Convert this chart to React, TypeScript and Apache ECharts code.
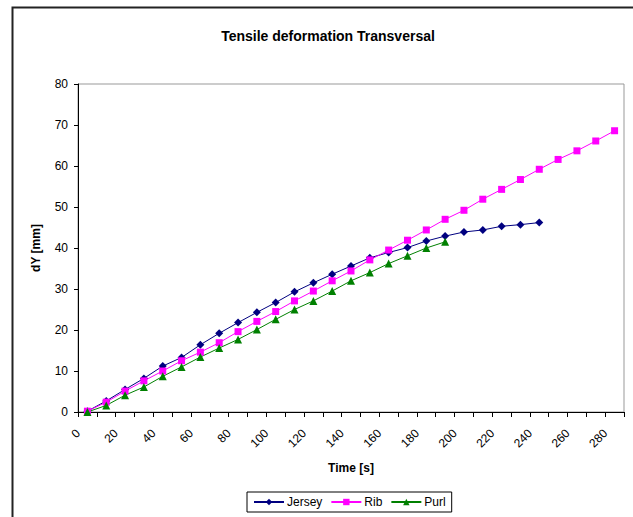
import React, { useEffect, useRef } from "react";
import * as echarts from "echarts";

const categories = ["0","10","20","30","40","50","60","70","80","90","100","110","120","130","140","150","160","170","180","190","200","210","220","230","240","250","260","270","280"];
const jersey = [0.2, 2.7, 5.5, 8.2, 11.2, 13.3, 16.4, 19.2, 21.8, 24.3, 26.7, 29.3, 31.5, 33.6, 35.6, 37.6, 38.9, 40.1, 41.7, 42.9, 43.9, 44.4, 45.3, 45.7, 46.2];
const rib = [0.2, 2.4, 5.1, 7.6, 10.0, 12.5, 14.6, 16.9, 19.6, 22.1, 24.5, 27.1, 29.5, 32.0, 34.4, 37.1, 39.5, 41.9, 44.4, 47.0, 49.2, 51.9, 54.3, 56.7, 59.2, 61.6, 63.7, 66.1, 68.6];
const purl = [0, 1.6, 4.1, 6.1, 8.7, 11.0, 13.4, 15.6, 17.7, 20.1, 22.6, 25.0, 27.1, 29.5, 32.0, 34.0, 36.2, 38.1, 40.0, 41.5];

const FONT = "'Liberation Sans', Arial, sans-serif";

export default function App() {
  const ref = useRef<HTMLDivElement>(null);
  useEffect(() => {
    if (!ref.current) return;
    const chart = echarts.init(ref.current, undefined, { renderer: "svg" });
    chart.setOption({
      animation: false,
      backgroundColor: "#ffffff",
      textStyle: { fontFamily: FONT, color: "#000" },
      title: {
        text: "Tensile deformation Transversal",
        left: 323,
        top: 24,
        textAlign: "center",
        textStyle: { fontFamily: FONT, fontSize: 14, fontWeight: "bold", color: "#000" },
      },
      graphic: [
        {
          type: "rect",
          shape: { x: 12.5, y: 7.5, width: 640, height: 530 },
          style: { fill: "none", stroke: "#222", lineWidth: 2 },
          silent: true,
        },
      ],
      legend: {
        left: 247,
        top: 492,
        padding: [4, 6, 4, 6],
        itemGap: 8,
        itemWidth: 30,
        itemHeight: 8,
        borderColor: "#000",
        borderWidth: 1,
        borderRadius: 0,
        textStyle: { fontFamily: FONT, fontSize: 12, color: "#000", padding: [0, 0, 0, -2] },
        data: ["Jersey", "Rib", "Purl"],
      },
      grid: {
        left: 78,
        right: 9,
        top: 84,
        bottom: 105,
        show: true,
        borderColor: "#999",
        borderWidth: 1,
        containLabel: false,
      },
      xAxis: {
        type: "category",
        data: categories,
        boundaryGap: true,
        name: "Time [s]",
        nameLocation: "middle",
        nameGap: 50,
        nameTextStyle: { fontFamily: FONT, fontSize: 12, fontWeight: "bold", color: "#000" },
        axisLine: { lineStyle: { color: "#000", width: 1 } },
        axisTick: { show: true, interval: 0, alignWithLabel: false, length: 5, lineStyle: { color: "#000" } },
        axisLabel: {
          interval: 1,
          rotate: 45,
          fontFamily: FONT,
          fontSize: 12,
          color: "#000",
          margin: 10,
          padding: [0, 13, 0, 0],
        },
        splitLine: { show: false },
      },
      yAxis: {
        type: "value",
        min: 0,
        max: 80,
        interval: 10,
        name: "dY [mm]",
        nameLocation: "middle",
        nameGap: 36,
        nameRotate: 90,
        nameTextStyle: { fontFamily: FONT, fontSize: 12, fontWeight: "bold", color: "#000" },
        axisLine: { show: true, lineStyle: { color: "#000", width: 1 } },
        axisTick: { show: true, length: 4, lineStyle: { color: "#000" } },
        axisLabel: { fontFamily: FONT, fontSize: 12, color: "#000", margin: 10 },
        splitLine: { show: false },
      },
      series: [
        {
          name: "Jersey",
          type: "line",
          data: jersey,
          symbol: "diamond",
          symbolSize: 8,
          itemStyle: { color: "#000080" },
          lineStyle: { color: "#000080", width: 1 },
        },
        {
          name: "Rib",
          type: "line",
          data: rib,
          symbol: "rect",
          symbolSize: 7,
          itemStyle: { color: "#ff00ff" },
          lineStyle: { color: "#ff00ff", width: 1 },
        },
        {
          name: "Purl",
          type: "line",
          data: purl,
          symbol: "triangle",
          symbolSize: 8,
          itemStyle: { color: "#008000" },
          lineStyle: { color: "#008000", width: 1 },
        },
      ],
    });
    return () => chart.dispose();
  }, []);
  return (
    <div
      ref={ref}
      style={{ position: "absolute", left: 0, top: 0, width: 633, height: 517 }}
    />
  );
}
